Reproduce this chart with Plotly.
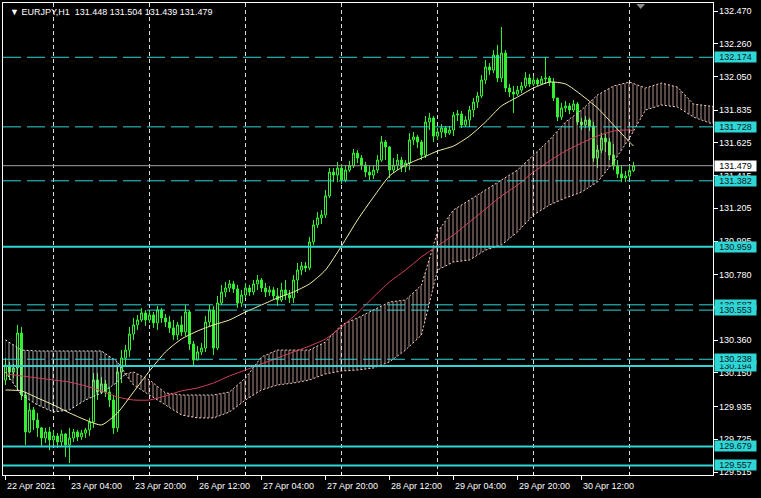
import plotly.graph_objects as go

# ---------------- data ----------------
bar_open = [
    130.105, 130.201, 130.156, 130.182, 130.406, 130.009, 129.772, 129.913, 129.849, 129.798,
    129.733, 129.772, 129.721, 129.746, 129.708, 129.759, 129.689, 129.733, 129.772, 129.740,
    129.765, 129.785, 129.836, 130.105, 130.028, 130.080, 130.028, 129.977, 129.798, 130.156,
    130.246, 130.297, 130.400, 130.458, 130.490, 130.535, 130.490, 130.522, 130.471, 130.554,
    130.503, 130.477, 130.439, 130.394, 130.458, 130.413, 130.541, 130.336, 130.233, 130.285,
    130.310, 130.477, 130.554, 130.310, 130.599, 130.669, 130.695, 130.721, 130.689, 130.599,
    130.650, 130.695, 130.669, 130.721, 130.746, 130.695, 130.669, 130.682, 130.644, 130.618,
    130.682, 130.650, 130.631, 130.746, 130.810, 130.836, 130.823, 130.990, 131.099, 131.144,
    131.163, 131.285, 131.438, 131.419, 131.464, 131.387, 131.451, 131.477, 131.560, 131.528,
    131.483, 131.438, 131.419, 131.451, 131.515, 131.631, 131.599, 131.451, 131.483, 131.515,
    131.471, 131.496, 131.644, 131.663, 131.631, 131.547, 131.759, 131.785, 131.669, 131.695,
    131.721, 131.688, 131.708, 131.804, 131.810, 131.740, 131.772, 131.836, 131.887, 131.926,
    132.028, 132.112, 132.092, 132.188, 132.041, 132.201, 131.977, 131.951, 131.938, 131.964,
    131.990, 132.041, 132.003, 132.028, 132.003, 132.035, 132.041, 132.015, 131.913, 131.791,
    131.849, 131.862, 131.836, 131.874, 131.759, 131.740, 131.772, 131.733, 131.528, 131.579,
    131.656, 131.631, 131.547, 131.477, 131.426, 131.400, 131.413, 131.448,
]
bar_high = [
    130.246, 130.221, 130.208, 130.458, 130.445, 130.028, 129.958, 129.932, 129.894, 129.804,
    129.798, 129.804, 129.785, 129.765, 129.785, 129.765, 129.798, 129.791, 129.785, 129.785,
    129.798, 129.862, 130.150, 130.150, 130.124, 130.105, 130.060, 130.009, 130.189, 130.297,
    130.330, 130.445, 130.503, 130.522, 130.567, 130.554, 130.554, 130.541, 130.580, 130.567,
    130.528, 130.515, 130.490, 130.477, 130.515, 130.586, 130.554, 130.355, 130.323, 130.342,
    130.515, 130.586, 130.580, 130.644, 130.714, 130.733, 130.746, 130.740, 130.714, 130.682,
    130.727, 130.714, 130.746, 130.778, 130.759, 130.727, 130.708, 130.701, 130.695, 130.727,
    130.746, 130.682, 130.778, 130.855, 130.862, 130.862, 131.022, 131.131, 131.182, 131.195,
    131.323, 131.464, 131.464, 131.503, 131.490, 131.483, 131.509, 131.586, 131.579, 131.547,
    131.503, 131.477, 131.477, 131.547, 131.669, 131.644, 131.605, 131.528, 131.554, 131.535,
    131.515, 131.688, 131.695, 131.676, 131.644, 131.797, 131.817, 131.797, 131.721, 131.746,
    131.733, 131.733, 131.823, 131.836, 131.829, 131.797, 131.862, 131.913, 131.951, 132.060,
    132.156, 132.137, 132.220, 132.253, 132.368, 132.220, 132.003, 131.990, 131.990, 132.015,
    132.079, 132.067, 132.054, 132.041, 132.054, 132.176, 132.054, 132.041, 131.913, 131.881,
    131.894, 131.881, 131.900, 131.887, 131.785, 131.797, 131.785, 131.759, 131.612, 131.688,
    131.682, 131.656, 131.618, 131.515, 131.483, 131.445, 131.483, 131.504,
]
bar_low = [
    130.073, 130.105, 130.118, 130.041, 129.977, 129.689, 129.765, 129.785, 129.740, 129.676,
    129.701, 129.656, 129.689, 129.669, 129.676, 129.612, 129.573, 129.708, 129.714, 129.721,
    129.733, 129.746, 129.798, 129.977, 130.015, 129.996, 129.932, 129.759, 129.772, 130.086,
    130.195, 130.253, 130.362, 130.426, 130.477, 130.451, 130.471, 130.439, 130.426, 130.471,
    130.445, 130.406, 130.362, 130.362, 130.387, 130.387, 130.297, 130.201, 130.233, 130.265,
    130.285, 130.451, 130.265, 130.297, 130.586, 130.637, 130.669, 130.663, 130.567, 130.573,
    130.631, 130.644, 130.650, 130.682, 130.669, 130.637, 130.644, 130.624, 130.580, 130.605,
    130.618, 130.599, 130.599, 130.663, 130.778, 130.797, 130.810, 130.971, 131.080, 131.105,
    131.144, 131.272, 131.374, 131.374, 131.362, 131.374, 131.438, 131.464, 131.496, 131.451,
    131.406, 131.387, 131.394, 131.432, 131.503, 131.515, 131.400, 131.432, 131.451, 131.438,
    131.438, 131.451, 131.612, 131.592, 131.515, 131.528, 131.708, 131.631, 131.644, 131.656,
    131.663, 131.676, 131.669, 131.765, 131.721, 131.727, 131.727, 131.791, 131.849, 131.913,
    132.003, 132.060, 132.073, 132.015, 132.015, 131.951, 131.919, 131.817, 131.926, 131.945,
    131.977, 131.983, 131.990, 131.990, 131.996, 132.003, 131.990, 131.894, 131.765, 131.772,
    131.823, 131.810, 131.823, 131.740, 131.708, 131.721, 131.701, 131.503, 131.464, 131.560,
    131.567, 131.515, 131.451, 131.400, 131.374, 131.374, 131.400, 131.439,
]
bar_close = [
    130.201, 130.156, 130.182, 130.406, 130.009, 129.772, 129.913, 129.849, 129.798, 129.733,
    129.772, 129.721, 129.746, 129.708, 129.759, 129.689, 129.733, 129.772, 129.740, 129.765,
    129.785, 129.836, 130.105, 130.028, 130.080, 130.028, 129.977, 129.798, 130.156, 130.246,
    130.297, 130.400, 130.458, 130.490, 130.535, 130.490, 130.522, 130.471, 130.554, 130.503,
    130.477, 130.439, 130.394, 130.458, 130.413, 130.541, 130.336, 130.233, 130.285, 130.310,
    130.477, 130.554, 130.310, 130.599, 130.669, 130.695, 130.721, 130.689, 130.599, 130.650,
    130.695, 130.669, 130.721, 130.746, 130.695, 130.669, 130.682, 130.644, 130.618, 130.682,
    130.650, 130.631, 130.746, 130.810, 130.836, 130.823, 130.990, 131.099, 131.144, 131.163,
    131.285, 131.438, 131.419, 131.464, 131.387, 131.451, 131.477, 131.560, 131.528, 131.483,
    131.438, 131.419, 131.451, 131.515, 131.631, 131.599, 131.451, 131.483, 131.515, 131.471,
    131.496, 131.644, 131.663, 131.631, 131.547, 131.759, 131.785, 131.669, 131.695, 131.721,
    131.688, 131.708, 131.804, 131.810, 131.740, 131.772, 131.836, 131.887, 131.926, 132.028,
    132.112, 132.092, 132.188, 132.041, 132.201, 131.977, 131.951, 131.938, 131.964, 131.990,
    132.041, 132.003, 132.028, 132.003, 132.035, 132.041, 132.015, 131.913, 131.791, 131.849,
    131.862, 131.836, 131.874, 131.759, 131.740, 131.772, 131.733, 131.528, 131.579, 131.656,
    131.631, 131.547, 131.477, 131.426, 131.400, 131.413, 131.448, 131.479,
]

# moving averages, sampled every 4 bars
ma_bars = list(range(0, 157, 4)) + [157]
ma_fast = [
    130.041, 130.035, 129.990, 129.945, 129.894, 129.849, 129.817, 129.894, 130.028, 130.163,
    130.285, 130.368, 130.419, 130.458, 130.490, 130.541, 130.586, 130.631, 130.669, 130.721,
    130.810, 130.964, 131.131, 131.278, 131.413, 131.483, 131.528, 131.573, 131.605, 131.669,
    131.759, 131.862, 131.919, 131.977, 132.015, 132.003, 131.932, 131.849, 131.740, 131.631,
    131.605,
]
ma_slow = [
    130.144, 130.131, 130.118, 130.105, 130.092, 130.067, 130.035, 129.996, 129.977, 129.977,
    130.003, 130.035, 130.054, 130.086, 130.131, 130.169, 130.208, 130.246, 130.285, 130.323,
    130.368, 130.445, 130.535, 130.637, 130.733, 130.810, 130.894, 130.964, 131.035, 131.118,
    131.201, 131.285, 131.355, 131.438, 131.509, 131.573, 131.624, 131.669, 131.701, 131.708,
    131.701,
]

# Ichimoku cloud spans (shifted 26 bars ahead)
cloud_bars = list(range(0, 29, 4)) + [30] + list(range(32, 181, 4))
span_a = [
    130.156, 130.009, 129.945, 129.900, 129.913, 129.977, 130.022, 130.092, 130.144, 130.156,
    130.105, 130.022, 130.009, 130.009, 130.009, 130.028, 130.118, 130.253, 130.297, 130.297,
    130.297, 130.349, 130.458, 130.503, 130.554, 130.605, 130.618, 130.714, 131.054, 131.195,
    131.259, 131.323, 131.387, 131.451, 131.547, 131.644, 131.759, 131.836, 131.932, 131.990,
    132.015, 131.977, 132.009, 131.983, 131.874, 131.862, 131.849,
]
span_b = [
    130.362, 130.297, 130.291, 130.291, 130.291, 130.291, 130.291, 130.221, 130.144, 130.073,
    130.009, 129.945, 129.881, 129.862, 129.862, 129.900, 129.977, 130.041, 130.073, 130.086,
    130.105, 130.144, 130.163, 130.169, 130.182, 130.221, 130.297, 130.394, 130.810, 130.862,
    130.874, 130.938, 130.971, 131.054, 131.163, 131.227, 131.272, 131.310, 131.374, 131.503,
    131.656, 131.836, 131.868, 131.855, 131.791, 131.753, 131.740,
]
twist_node = 8

x_tick_bars = [0, 16, 32, 48, 64, 80, 96, 112, 128, 144]
x_tick_labels = ["22 Apr 2021", "23 Apr 04:00", "23 Apr 20:00", "26 Apr 12:00", "27 Apr 04:00",
                 "27 Apr 20:00", "28 Apr 12:00", "29 Apr 04:00", "29 Apr 20:00", "30 Apr 12:00"]
day_bars = [12, 36, 60, 84, 108, 132, 156]

y_tick_vals = [132.470, 132.260, 132.050, 131.835, 131.625, 131.415, 131.205, 130.995,
               130.780, 130.570, 130.360, 130.150, 129.935, 129.725, 129.515]

level_dashed = [132.174, 131.728, 131.382, 130.587, 130.553, 130.238]
level_solid = [130.959, 130.194, 129.679, 129.557]
level_label_order = [132.174, 131.728, 131.382, 130.959, 130.587, 130.553, 130.194, 130.238, 129.679, 129.557]
bid_price = 131.479
header_text = "EURJPY,H1  131.448 131.504 131.439 131.479"

# ---------------- styling ----------------
FONT = "Liberation Sans"
GREEN = "#33F033"
CYAN = "#2ED6D6"
WHITE_CLOUD = "rgb(236,236,236)"
PINK_CLOUD = "rgb(250,205,196)"

fig = go.Figure()

bars_x = list(range(len(bar_close)))
fig.add_trace(go.Candlestick(
    x=bars_x, open=bar_open, high=bar_high, low=bar_low, close=bar_close,
    increasing=dict(line=dict(color=GREEN, width=1), fillcolor="#000000"),
    decreasing=dict(line=dict(color=GREEN, width=1), fillcolor=GREEN),
    whiskerwidth=0, hoverinfo="skip", showlegend=False))


def add_cloud(xs, a, b, color):
    fig.add_trace(go.Scatter(x=xs, y=b, mode="lines",
                             line=dict(color=color, width=1, dash="2px,2px"),
                             hoverinfo="skip", showlegend=False))
    fig.add_trace(go.Scatter(x=xs, y=a, mode="lines",
                             line=dict(color=color, width=1, dash="2px,2px"),
                             fill="tonexty", fillcolor="rgba(0,0,0,0)",
                             fillpattern=dict(shape="|", size=4, solidity=0.35,
                                              fgcolor=color, bgcolor="rgba(0,0,0,0)"),
                             hoverinfo="skip", showlegend=False))


add_cloud(cloud_bars[:twist_node + 1], span_a[:twist_node + 1], span_b[:twist_node + 1], WHITE_CLOUD)
add_cloud(cloud_bars[twist_node:], span_a[twist_node:], span_b[twist_node:], PINK_CLOUD)

fig.add_trace(go.Scatter(x=ma_bars, y=ma_slow, mode="lines",
                         line=dict(color="#D8405C", width=1, shape="spline", smoothing=0.6),
                         hoverinfo="skip", showlegend=False))
fig.add_trace(go.Scatter(x=ma_bars, y=ma_fast, mode="lines",
                         line=dict(color="#F4F0A8", width=1, shape="spline", smoothing=0.6),
                         hoverinfo="skip", showlegend=False))

shapes = []
for v in level_dashed:
    shapes.append(dict(type="line", xref="paper", x0=0, x1=1, yref="y", y0=v, y1=v,
                       line=dict(color=CYAN, width=1, dash="18px,6px"), layer="above"))
for v in level_solid:
    shapes.append(dict(type="line", xref="paper", x0=0, x1=1, yref="y", y0=v, y1=v,
                       line=dict(color=CYAN, width=2), layer="above"))
shapes.append(dict(type="line", xref="paper", x0=0, x1=1, yref="y", y0=bid_price, y1=bid_price,
                   line=dict(color="#A0A0A0", width=1), layer="above"))
# chart-shift marker at the top
shapes.append(dict(type="path", xref="x", yref="paper",
                   path="M 157.7,0.9979 L 159.9,0.9979 L 158.8,0.9873 Z",
                   fillcolor="#8C8C8C", line=dict(width=0), layer="above"))

annotations = []
annotations.append(dict(xref="paper", yref="paper", x=0, y=0.9799, xanchor="left", yanchor="middle",
                        xshift=5, text="\u25BC " + header_text, showarrow=False,
                        font=dict(family=FONT, size=9, color="#FFFFFF")))
for b, lab in zip(x_tick_bars, x_tick_labels):
    annotations.append(dict(xref="x", yref="paper", x=b, y=0, xanchor="left", yanchor="top",
                            xshift=0, yshift=-5, text=lab, showarrow=False, borderpad=0,
                            font=dict(family=FONT, size=9, color="#FFFFFF")))
for v in y_tick_vals:
    annotations.append(dict(xref="paper", yref="y", x=1, y=v, xanchor="left", yanchor="middle",
                            xshift=5, text=f"{v:.3f}", showarrow=False, borderpad=0,
                            font=dict(family=FONT, size=9, color="#FFFFFF")))
for v in level_label_order:
    annotations.append(dict(xref="paper", yref="y", x=1, y=v, xanchor="left", yanchor="middle",
                            xshift=1, text=f"{v:.3f}", showarrow=False, borderpad=0,
                            width=41, height=10, bgcolor=CYAN, align="center",
                            font=dict(family=FONT, size=9, color="#0A1A24")))
annotations.append(dict(xref="paper", yref="y", x=1, y=bid_price, xanchor="left", yanchor="middle",
                        xshift=1, text=f"{bid_price:.3f}", showarrow=False, borderpad=0,
                        width=41, height=10, bgcolor="#FFFFFF", align="center",
                        font=dict(family=FONT, size=9, color="#000000")))

fig.update_layout(
    width=761, height=498,
    margin=dict(l=3, r=48, t=3, b=23, pad=0),
    paper_bgcolor="#000000", plot_bgcolor="#000000",
    showlegend=False,
    boxgap=0.5, boxgroupgap=0,
    shapes=shapes, annotations=annotations,
    xaxis=dict(range=[-0.625, 176.875], showgrid=False, zeroline=False,
               showline=True, linecolor="#FFFFFF", linewidth=1, mirror=True,
               tickmode="array", tickvals=x_tick_bars, ticks="outside", ticklen=4,
               tickcolor="#FFFFFF", showticklabels=False,
               rangeslider=dict(visible=False),
               minor=dict(tickmode="array", tickvals=day_bars, ticks="inside", ticklen=3,
                          tickcolor="#FFFFFF", showgrid=True, gridcolor="#DADADA",
                          griddash="4px,3px", gridwidth=1)),
    yaxis=dict(range=[129.496, 132.522], side="right", showgrid=False, zeroline=False,
               showline=True, linecolor="#FFFFFF", linewidth=1, mirror=True,
               tickmode="array", tickvals=y_tick_vals, ticks="outside", ticklen=4,
               tickcolor="#FFFFFF", showticklabels=False),
)

fig.write_html("out.html", config={"displayModeBar": False},
               post_script="document.body.style.margin='0';document.body.style.background='#000';")
